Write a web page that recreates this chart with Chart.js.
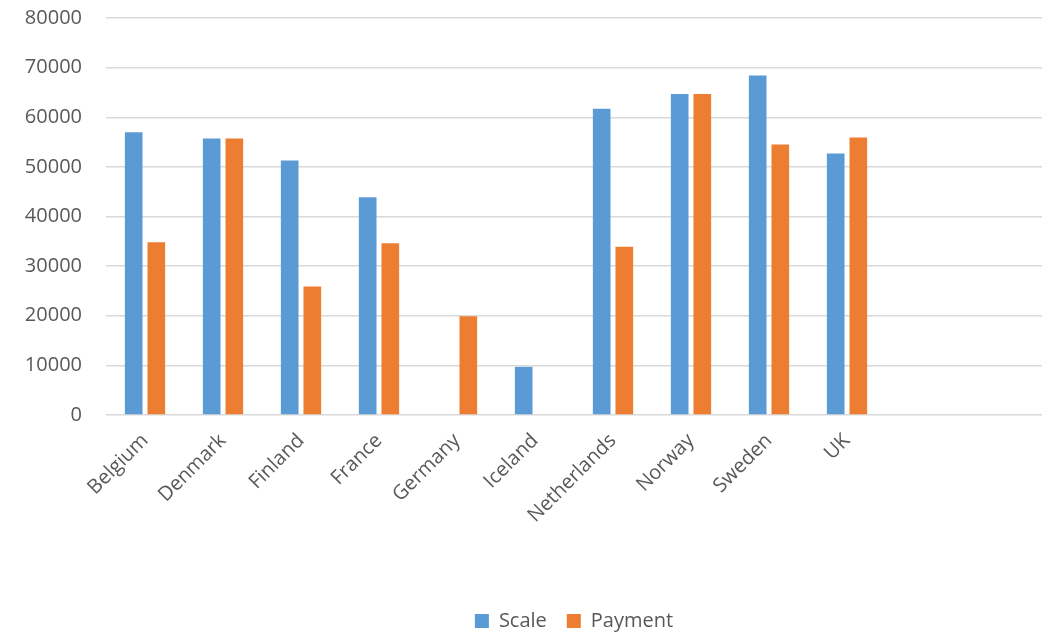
<!DOCTYPE html>
<html>
<head>
<meta charset="utf-8">
<script src="https://cdn.jsdelivr.net/npm/chart.js@4"></script>
<style>
  html, body { margin: 0; padding: 0; background: #fff; overflow: hidden; }
  #wrap { width: 1051px; height: 652px; margin-top: -18px; }
</style>
</head>
<body>
<div id="wrap"><canvas id="chart"></canvas></div>
<script>
// categories (last two slots are empty in the original)
const countries = ['Belgium', 'Denmark', 'Finland', 'France', 'Germany', 'Iceland',
    'Netherlands', 'Norway', 'Sweden', 'UK', '', ''];
const scaleValues = [57000, 55700, 51300, 43900, null, 9700, 61700, 64700, 68400, 52700, null, null];
const paymentValues = [34800, 55700, 25900, 34600, 19900, null, 33900, 64700, 54500, 55900, null, null];
const yTicks = { min: 0, max: 80000, step: 10000 };

const textColor = '#595959';
const font = { family: '"Open Sans", sans-serif', size: 20 };

const ctx = document.getElementById('chart').getContext('2d');
new Chart(ctx, {
    type: 'bar',
    data: {
        labels: countries,
        datasets: [
            { label: 'Scale', data: scaleValues, backgroundColor: '#5B9BD5', borderWidth: 0 },
            { label: 'Payment', data: paymentValues, backgroundColor: '#ED7D31', borderWidth: 0 }
        ]
    },
    options: {
        responsive: true,
        maintainAspectRatio: false,
        animation: false,
        layout: { padding: { top: 0, right: 9, left: 0, bottom: -7 } },
        datasets: {
            bar: { categoryPercentage: 0.58, barPercentage: 0.78 }
        },
        scales: {
            x: {
                grid: { display: false },
                border: { display: false },
                ticks: {
                    color: textColor, font: font,
                    maxRotation: 45, minRotation: 45, autoSkip: false, padding: 6
                },
                afterFit: (scale) => { scale.height = 176; }
            },
            y: {
                min: yTicks.min, max: yTicks.max,
                grid: { color: '#d9d9d9', lineWidth: 1.5, drawTicks: false },
                border: { display: false },
                ticks: {
                    stepSize: yTicks.step, color: textColor, font: font, padding: 24,
                    callback: (v) => String(v)
                },
                afterFit: (scale) => { scale.width = 106; }
            }
        },
        plugins: {
            legend: {
                position: 'bottom',
                fullSize: false,
                labels: { color: textColor, font: font, boxWidth: 14, boxHeight: 14, padding: 20 }
            },
            tooltip: { enabled: false }
        }
    }
});
</script>
</body>
</html>
